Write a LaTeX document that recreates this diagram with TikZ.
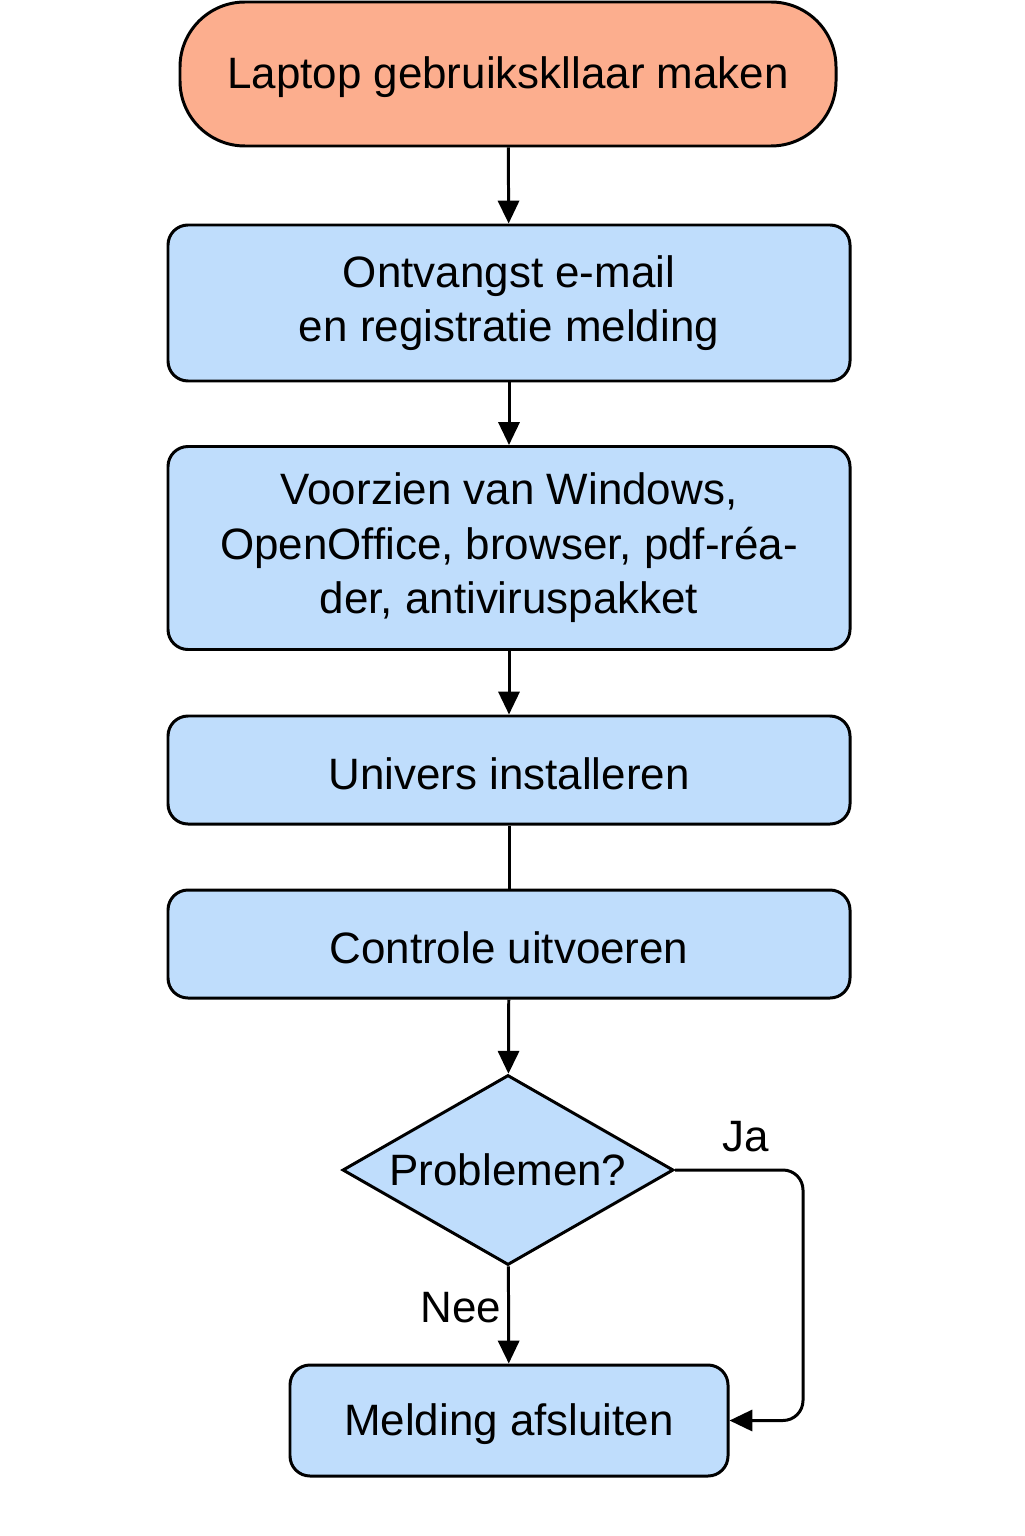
\documentclass[tikz,border=0pt]{standalone}
\usepackage{fontspec}
\setmainfont{Liberation Sans}
\usetikzlibrary{arrows.meta,shapes.geometric}
\definecolor{startred}{RGB}{252,174,142}
\definecolor{boxblue}{RGB}{191,221,252}

\begin{document}
\begin{tikzpicture}[
	txt/.style={font=\fontsize{25}{31}\selectfont},
	box/.style={txt,draw,line width=1.7pt,fill=boxblue,rounded corners=0.4cm,align=center,minimum width=13.64cm},
	arrow/.style={line width=1.7pt,-{Triangle[length=13pt,width=12pt]}}
]
	\useasboundingbox (0,0) rectangle (20.48,-30.72);
	\node[txt,draw,line width=1.7pt,fill=startred,rounded corners=1.3cm,minimum width=13.12cm,minimum height=2.88cm,text height=0.78cm] (start) at (10.16,-1.48) {Laptop gebruikskllaar maken};
	\node[box,minimum height=3.12cm] (mail) at (10.18,-6.06) {Ontvangst e-mail\\en registratie melding};
	\node[box,minimum height=4.06cm] (soft) at (10.18,-10.96) {Voorzien van Windows,\\OpenOffice, browser, pdf-réa-\\der, antiviruspakket};
	\node[box,minimum height=2.16cm,text height=0.78cm] (univ) at (10.18,-15.40) {Univers installeren};
	\node[box,minimum height=2.16cm,text height=0.78cm] (contr) at (10.18,-18.88) {Controle uitvoeren};
	\node[txt,draw,line width=1.7pt,fill=boxblue,diamond,aspect=1.74,inner sep=0pt,minimum width=6.62cm,minimum height=3.8cm] (probl) at (10.16,-23.40) {Problemen?};
	\node[box,minimum width=8.76cm,minimum height=2.22cm,text height=0.78cm] (end) at (10.18,-28.41) {Melding afsluiten};

	\draw [arrow] (start) -- (mail);
	\draw [arrow] (mail) -- (soft);
	\draw [arrow] (soft) -- (univ);
	\draw [line width=1.7pt] (univ) -- (contr);
	\draw [arrow] (contr) -- (probl);
	\draw [arrow] (probl) -- (end) node[txt,pos=0.42,left]{Nee};
	\draw [arrow,rounded corners=0.4cm] (probl.east) -- ++(2.56,0) node[txt,midway,above=6pt,xshift=0.14cm]{Ja} |- (end.east);
\end{tikzpicture}
\end{document}
